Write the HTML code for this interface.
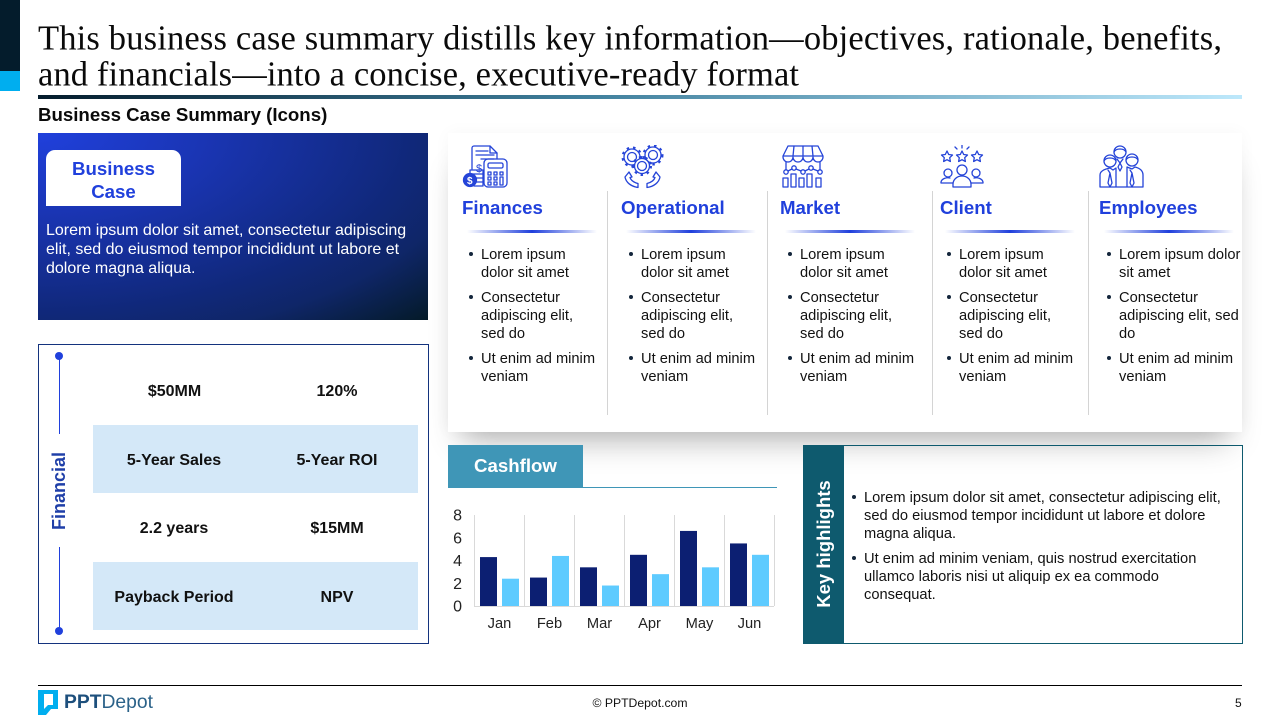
<!DOCTYPE html>
<html lang="en">
<head>
<meta charset="utf-8">
<title>Business Case Summary</title>
<style>
html,body{margin:0;padding:0;background:#fff;}
#slide{position:relative;width:1280px;height:720px;overflow:hidden;background:#fff;font-family:"Liberation Sans",Arial,sans-serif;color:#111;}
.a{position:absolute;}
.t{position:absolute;white-space:nowrap;}
.head{position:absolute;top:196px;font-size:18.67px;line-height:23px;font-weight:bold;color:#2040dc;white-space:nowrap;}
.rule{position:absolute;top:230px;height:3px;width:130px;background:linear-gradient(90deg,rgba(32,64,220,0),#1f3fdc 50%,rgba(32,64,220,0));}
.divider{position:absolute;top:191px;height:224px;width:1px;background:#d4d4d4;}
.list{position:absolute;top:246px;font-size:14.67px;line-height:18px;color:#111;white-space:nowrap;}
.list p,.kh p{margin:0 0 7px;position:relative;}
.list p::before,.kh p::before{content:"";position:absolute;left:-12px;top:6px;width:4px;height:4px;border-radius:50%;background:#14263c;}
.kh{position:absolute;left:864px;top:489px;font-size:14.67px;line-height:18px;color:#111;white-space:nowrap;}
.fin{position:absolute;width:164px;text-align:center;font-size:16px;line-height:20px;font-weight:bold;color:#111;white-space:nowrap;}
svg.icon{position:absolute;top:145px;fill:none;stroke:#2544d8;stroke-width:1.3;stroke-linejoin:round;stroke-linecap:round;}
</style>
</head>
<body>
<div id="slide">
  <div class="a" style="left:0;top:0;width:20px;height:71px;background:#041c2c;"></div>
  <div class="a" style="left:0;top:71px;width:20px;height:20px;background:#00aeef;"></div>

  <svg class="a" style="left:0;top:0;" width="1280" height="96">
    <text x="38" y="49.5" font-family="'Liberation Serif',serif" font-size="34.5" fill="#0a0a0a" textLength="1184" lengthAdjust="spacing">This business case summary distills key information—objectives, rationale, benefits,</text>
    <text x="38" y="85.5" font-family="'Liberation Serif',serif" font-size="34.5" fill="#0a0a0a" textLength="761" lengthAdjust="spacing">and financials—into a concise, executive-ready format</text>
  </svg>
  <div class="a" style="left:38px;top:95px;width:1204px;height:4px;background:linear-gradient(90deg,#041c2c,#3f7f9c 45%,#bde8fb);"></div>
  <div class="t" style="left:38px;top:104px;font-size:18.67px;line-height:22px;font-weight:bold;color:#0a0a0a;">Business Case Summary (Icons)</div>

  <div class="a" style="left:38px;top:133px;width:390px;height:187px;background:radial-gradient(ellipse farthest-corner at 0 0,#2040dc 0%,#1a35b4 30%,#10287a 68%,#0f2668 80%,#041a28 100%);"></div>
  <div class="a" style="left:46px;top:150px;width:135px;height:56px;background:#fff;border-radius:9px 9px 0 0;"></div>
  <div class="t" style="left:46px;top:157px;width:135px;text-align:center;font-size:18.67px;line-height:23px;font-weight:bold;color:#2040dc;">Business<br>Case</div>
  <div class="t" style="left:46px;top:221px;font-size:16px;line-height:19px;color:#fff;">Lorem ipsum dolor sit amet, consectetur adipiscing<br>elit, sed do eiusmod tempor incididunt ut labore et<br>dolore magna aliqua.</div>

  <div class="a" style="left:38px;top:344px;width:389px;height:298px;border:1.5px solid #14337e;background:#fff;"></div>
  <div class="a" style="left:58.5px;top:356px;width:1px;height:78px;background:#2040dc;"></div>
  <div class="a" style="left:58.5px;top:547px;width:1px;height:84px;background:#2040dc;"></div>
  <div class="a" style="left:55px;top:352px;width:8px;height:8px;border-radius:50%;background:#2040dc;"></div>
  <div class="a" style="left:55px;top:627px;width:8px;height:8px;border-radius:50%;background:#2040dc;"></div>
  <div class="t" style="left:9px;top:480px;width:100px;text-align:center;font-size:18px;line-height:22px;font-weight:bold;color:#1f3fa8;transform:rotate(-90deg);">Financial</div>
  <div class="a" style="left:93px;top:425px;width:325px;height:68px;background:#d4e8f8;"></div>
  <div class="a" style="left:93px;top:562px;width:325px;height:68px;background:#d4e8f8;"></div>
  <div class="fin" style="left:92.500px;top:382px;">$50MM</div>
  <div class="fin" style="left:255px;top:382px;">120%</div>
  <div class="fin" style="left:92px;top:451px;">5-Year Sales</div>
  <div class="fin" style="left:255px;top:451px;">5-Year ROI</div>
  <div class="fin" style="left:92px;top:519px;">2.2 years</div>
  <div class="fin" style="left:255px;top:519px;">$15MM</div>
  <div class="fin" style="left:92px;top:588px;">Payback Period</div>
  <div class="fin" style="left:255px;top:588px;">NPV</div>

  <div class="a" style="left:448px;top:133px;width:794px;height:299px;background:#fff;box-shadow:0 22px 30px -14px rgba(0,0,0,.3),0 0 16px rgba(0,0,0,.035);"></div>

  <svg class="icon" style="left:462px;" width="48" height="45" viewBox="0 0 48 45">
    <path d="M10 24V3a2 2 0 0 1 2-2h16l7 7v6"/><path d="M28 1v7h7"/><path d="M14 6h12M14 10h18M19 14h13"/>
    <text x="14" y="27" font-size="11" fill="#2544d8" stroke="none" font-family="'Liberation Sans',sans-serif">$</text>
    <rect x="22" y="14" width="23" height="28" rx="4"/><rect x="26" y="18" width="15" height="5" rx="1.500"/>
    <path d="M26 27h3v3h-3zM32 27h3v3h-3zM38 27h3v3h-3zM26 32h3v3h-3zM32 32h3v3h-3zM26 37h3v3h-3zM32 37h3v3h-3zM38 32h3v8h-3z"/>
    <path d="M8 25h13v4H8zM9 29h12v4H9zM12 33h9v4h-9zM12 37h9v4h-9z"/>
    <circle cx="8" cy="35" r="6.500" fill="#2544d8" stroke="#2544d8"/>
    <text x="5" y="39" font-size="10" font-weight="bold" fill="#fff" stroke="none" font-family="'Liberation Sans',sans-serif">$</text>
  </svg>
  <svg class="icon" style="left:620px;" width="46" height="45" viewBox="0 0 46 45">
    <circle cx="12" cy="12" r="4.500"/><circle cx="12" cy="12" r="8"/><circle cx="12" cy="12" r="9.500" stroke-dasharray="2.500 4" stroke-width="2" stroke-linecap="butt"/>
    <circle cx="33" cy="10" r="4.500"/><circle cx="33" cy="10" r="8"/><circle cx="33" cy="10" r="9.500" stroke-dasharray="2.500 4" stroke-width="2" stroke-linecap="butt"/>
    <circle cx="22" cy="21" r="7.500" fill="#fff"/><circle cx="22" cy="21" r="4.500"/><circle cx="22" cy="21" r="9" stroke-dasharray="2.500 4" stroke-width="2" stroke-linecap="butt"/>
    <path d="M5 32l4-5 3 5-2 .5c1 3 4 5 8 6v4c-7-1-12-5-13-10.500zM40 32l-4-5-3 5 2 .5c-1 3-4 5-8 6v4c7-1 12-5 13-10.500z"/>
  </svg>
  <svg class="icon" style="left:781px;" width="44" height="45" viewBox="0 0 44 45">
    <path d="M7 1h30l5 10H2zM2 11v1a5 5 0 0 0 10 0 5 5 0 0 0 10 0 5 5 0 0 0 10 0 5 5 0 0 0 10 0v-1"/><path d="M13 1l-1 10M22 1v10M31 1l1 10"/>
    <path d="M5 25v-8M39 25v-8"/><circle cx="5" cy="27" r="2.200"/><circle cx="13" cy="23" r="2.200"/><circle cx="22" cy="27" r="2.200"/><circle cx="30" cy="23" r="2.200"/><circle cx="39" cy="27" r="2.200"/>
    <path d="M7 26l4-2M15 24l5 2M24 26l4-2M32 24l5 2"/>
    <rect x="2" y="33" width="5" height="9"/><rect x="10" y="29" width="5" height="13"/><rect x="18" y="33" width="5" height="9"/><rect x="26" y="29" width="5" height="13"/><rect x="35" y="33" width="5" height="9"/>
  </svg>
  <svg class="icon" style="left:940px;" width="44" height="45" viewBox="0 0 44 45">
    <path d="M7 6l1.700 3.500 3.800.5-2.800 2.700.7 3.800L7 14.700 3.600 16.500l.7-3.800L1.500 10l3.800-.5zM22 6l1.700 3.500 3.800.5-2.800 2.700.7 3.800L22 14.700l-3.400 1.800.7-3.800L16.500 10l3.800-.5zM37 6l1.700 3.500 3.800.5-2.800 2.700.7 3.800L37 14.700l-3.400 1.800.7-3.800L31.500 10l3.800-.5z"/>
    <path d="M22 0v3M15 2l2 2M29 2l-2 2"/>
    <circle cx="22" cy="25" r="5"/><path d="M13 42v-3a9 8 0 0 1 18 0v3z"/>
    <circle cx="8" cy="28" r="4"/><circle cx="36" cy="28" r="4"/><path d="M13 38H1v-1a7 5 0 0 1 9-4M31 38h12v-1a7 5 0 0 0-9-4"/>
  </svg>
  <svg class="icon" style="left:1099px;" width="46" height="45" viewBox="0 0 46 45">
    <circle cx="21" cy="7" r="6"/><path d="M15 7c2-4 10-4 12 0"/>
    <circle cx="11" cy="16" r="6"/><circle cx="33" cy="15" r="6"/><path d="M5 16c2-4 10-4 12 0M27 15c2-4 10-4 12 0"/>
    <path d="M1 42V30c0-4 5-6 10-7l3 2 3-2v19M28 42V22l5 2 3-2c4 1 8 3 8 8v12M1 42h43"/>
    <path d="M9 25l2 3-2 10 2 4 2-4-2-10M31 25l2 3-2 10 2 4 2-4-2-10M18 14l3 4 3-4M21 18l-2 4 2 4 2-4-2-4"/>
  </svg>

  <div class="head" style="left:462px;">Finances</div>
  <div class="head" style="left:621px;">Operational</div>
  <div class="head" style="left:780px;">Market</div>
  <div class="head" style="left:940px;">Client</div>
  <div class="head" style="left:1099px;">Employees</div>
  <div class="rule" style="left:467px;"></div>
  <div class="rule" style="left:626px;"></div>
  <div class="rule" style="left:785px;"></div>
  <div class="rule" style="left:945px;"></div>
  <div class="rule" style="left:1104px;"></div>
  <div class="divider" style="left:607px;"></div>
  <div class="divider" style="left:767px;"></div>
  <div class="divider" style="left:932px;"></div>
  <div class="divider" style="left:1088px;"></div>

  <div class="list" style="left:481px;"><p>Lorem ipsum<br>dolor sit amet</p><p>Consectetur<br>adipiscing elit,<br>sed do</p><p>Ut enim ad minim<br>veniam</p></div>
  <div class="list" style="left:641px;"><p>Lorem ipsum<br>dolor sit amet</p><p>Consectetur<br>adipiscing elit,<br>sed do</p><p>Ut enim ad minim<br>veniam</p></div>
  <div class="list" style="left:800px;"><p>Lorem ipsum<br>dolor sit amet</p><p>Consectetur<br>adipiscing elit,<br>sed do</p><p>Ut enim ad minim<br>veniam</p></div>
  <div class="list" style="left:959px;"><p>Lorem ipsum<br>dolor sit amet</p><p>Consectetur<br>adipiscing elit,<br>sed do</p><p>Ut enim ad minim<br>veniam</p></div>
  <div class="list" style="left:1119px;"><p>Lorem ipsum dolor<br>sit amet</p><p>Consectetur<br>adipiscing elit, sed<br>do</p><p>Ut enim ad minim<br>veniam</p></div>

  <div class="a" style="left:448px;top:445px;width:135px;height:43px;background:#3f96b7;"></div>
  <div class="a" style="left:448px;top:487px;width:329px;height:1px;background:#3f96b7;"></div>
  <div class="t" style="left:474px;top:455px;font-size:18.67px;line-height:22px;font-weight:bold;color:#fff;">Cashflow</div>
  <svg class="a" id="cashflow-chart" style="left:440px;top:500px;" width="345" height="140"></svg>

  <div class="a" style="left:803px;top:445px;width:438px;height:197px;border:1px solid #0e5a6e;"></div>
  <div class="a" style="left:803px;top:445px;width:41px;height:199px;background:#0e5a6e;"></div>
  <div class="t" style="left:744px;top:533px;width:160px;text-align:center;font-size:18.5px;line-height:22px;font-weight:bold;color:#fff;transform:rotate(-90deg);">Key highlights</div>
  <div class="kh"><p>Lorem ipsum dolor sit amet, consectetur adipiscing elit,<br>sed do eiusmod tempor incididunt ut labore et dolore<br>magna aliqua.</p><p>Ut enim ad minim veniam, quis nostrud exercitation<br>ullamco laboris nisi ut aliquip ex ea commodo<br>consequat.</p></div>

  <div class="a" style="left:38px;top:685px;width:1204px;height:1px;background:#000;"></div>
  <svg class="a" style="left:38px;top:690px;" width="20" height="25" viewBox="0 0 20 25">
    <path d="M0 0H20V19H13L8 25H0z" fill="#00aeef"/><path d="M6 4H15V15H10L6 19z" fill="#fff"/>
  </svg>
  <div class="t" style="left:64px;top:692px;font-size:19.3px;line-height:22px;color:#2b6289;"><b style="color:#1d4f7c;">PPT</b>Depot</div>
  <div class="t" style="left:540px;top:696px;width:200px;text-align:center;font-size:12.2px;line-height:14px;color:#111;">© PPTDepot.com</div>
  <div class="t" style="left:1235px;top:696px;font-size:12px;line-height:14px;color:#111;">5</div>
</div>

<script>
const categories = ["Jan", "Feb", "Mar", "Apr", "May", "Jun"];
const seriesDark = [4.3, 2.5, 3.4, 4.5, 6.6, 5.5];
const seriesLight = [2.4, 4.4, 1.8, 2.8, 3.4, 4.5];
const yTicks = [0, 2, 4, 6, 8];

const NS = "http://www.w3.org/2000/svg";
const chart = document.getElementById("cashflow-chart");
const plotLeft = 34, plotWidth = 300, plotBottom = 106, plotHeight = 91, yMax = 8;
const band = plotWidth / categories.length;
const barWidth = 17;

function xBand(i) { return plotLeft + i * band; }
function yScale(v) { return plotBottom - (v / yMax) * plotHeight; }
function make(tag, attrs) {
  const el = document.createElementNS(NS, tag);
  for (const k in attrs) el.setAttribute(k, attrs[k]);
  return el;
}

for (let i = 0; i <= categories.length; i++) {
  const grid = make("line", { x1: xBand(i) + 0.5, x2: xBand(i) + 0.5, y1: yScale(yMax), y2: plotBottom, stroke: "#d9d9d9", "stroke-width": 1 });
  
  
  chart.appendChild(grid);
}
const baseline = make("line", { x1: plotLeft, x2: plotLeft + plotWidth, y1: plotBottom + 0.5, y2: plotBottom + 0.5, stroke: "#d9d9d9", "stroke-width": 1 });


chart.appendChild(baseline);

yTicks.forEach(function (v) {
  const label = make("text", { x: 22, y: yScale(v) + 5.5, "text-anchor": "end", "font-size": 16, fill: "#222", "font-family": "'Liberation Sans',sans-serif" });
  label.textContent = v;
  
  
  chart.appendChild(label);
});

categories.forEach(function (c, i) {
  const dark = make("rect", { x: xBand(i) + 6, y: yScale(seriesDark[i]), width: barWidth, height: plotBottom - yScale(seriesDark[i]), fill: "#0c1f72" });
  
  
  chart.appendChild(dark);

  const light = make("rect", { x: xBand(i) + 28, y: yScale(seriesLight[i]), width: barWidth, height: plotBottom - yScale(seriesLight[i]), fill: "#5ecbff" });
  
  
  chart.appendChild(light);

  const label = make("text", { x: xBand(i) + band / 2 + 0.5, y: 128, "text-anchor": "middle", "font-size": 14.67, fill: "#222", "font-family": "'Liberation Sans',sans-serif" });
  label.textContent = c;
  
  
  chart.appendChild(label);
});
</script>
</body>
</html>
